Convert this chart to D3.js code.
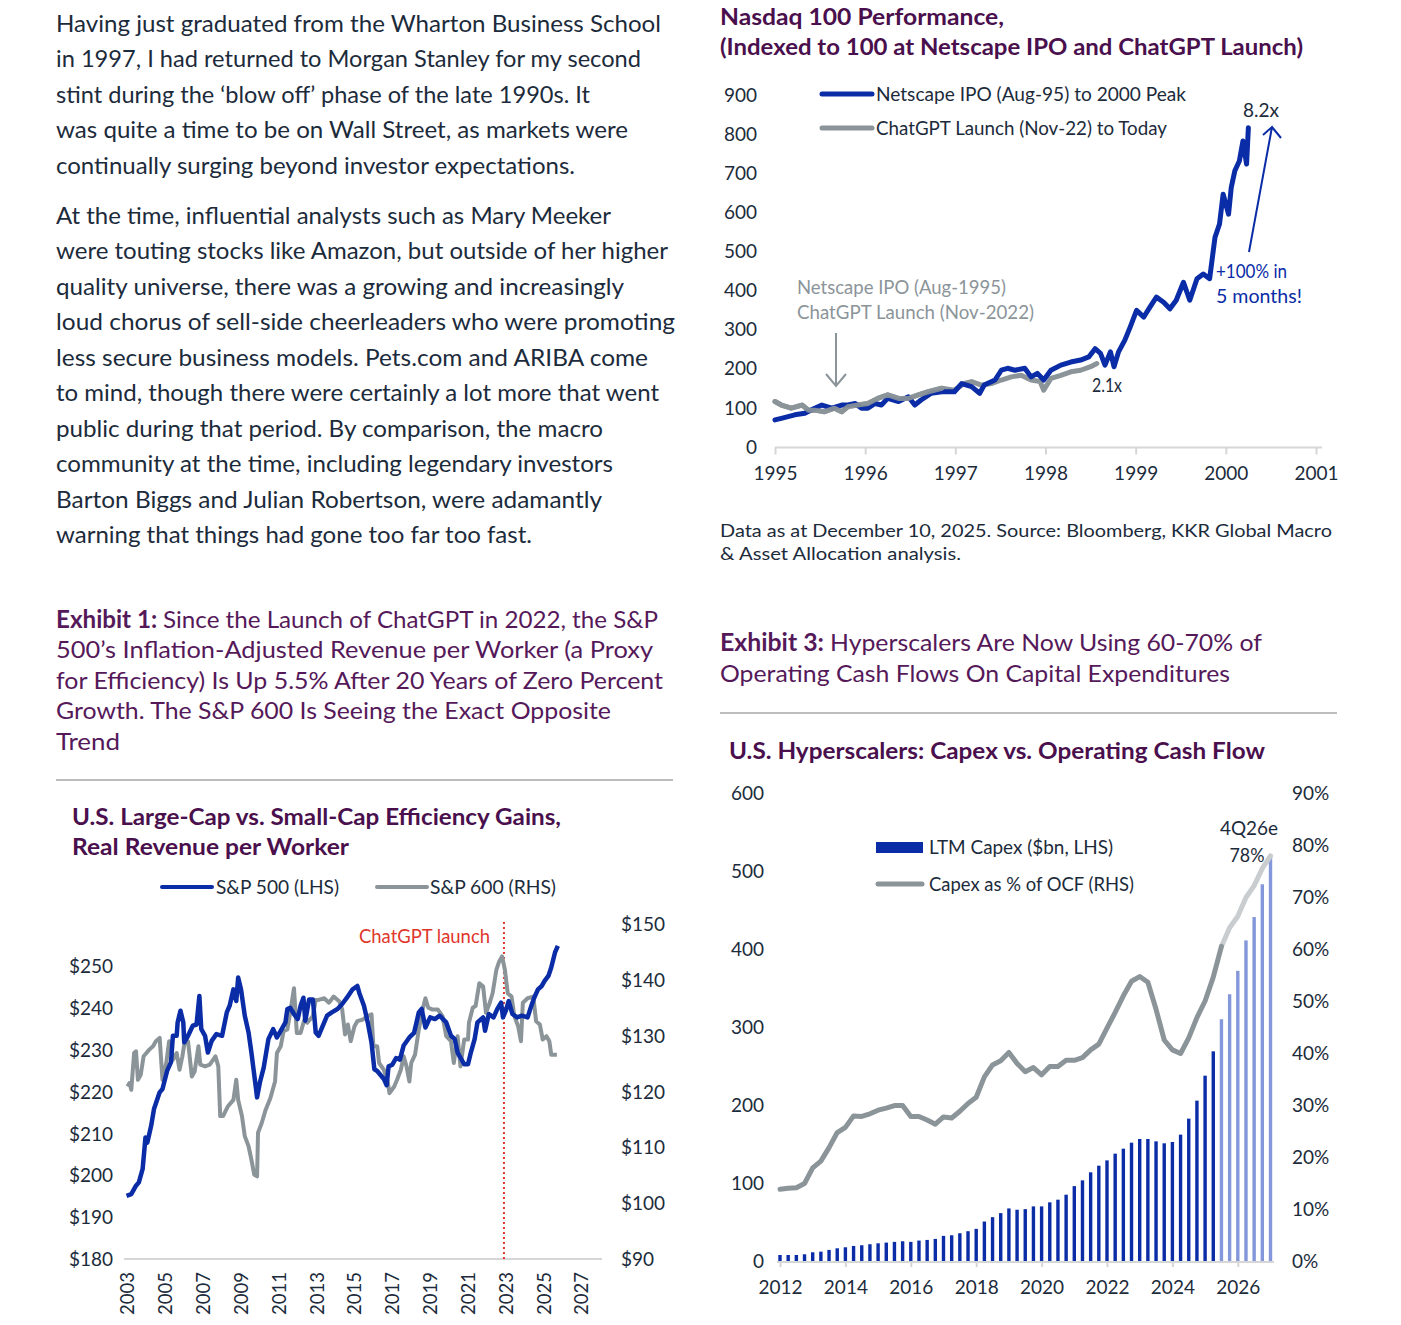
<!DOCTYPE html>
<html><head><meta charset="utf-8">
<script src="https://cdn.jsdelivr.net/npm/d3@7"></script>
<style>body{margin:0;background:#fff} svg{display:block}</style>
</head><body>
<svg id="c" width="1401" height="1325"></svg>
<script>
// ---------------- DATA ----------------
// Nasdaq chart (decimal years, index level)
const netscapeT = [1995.0,1995.07,1995.22,1995.33,1995.44,1995.52,1995.63,1995.74,1995.81,1995.89,1995.96,1996.03,1996.11,1996.18,1996.25,1996.37,1996.48,1996.55,1996.62,1996.73,1996.85,1996.99,1997.07,1997.18,1997.27,1997.32,1997.44,1997.51,1997.58,1997.66,1997.77,1997.84,1997.91,1997.98,1998.06,1998.17,1998.28,1998.39,1998.48,1998.55,1998.61,1998.66,1998.72,1998.76,1998.81,1998.88,1998.94,1999.01,1999.09,1999.16,1999.23,1999.31,1999.38,1999.45,1999.53,1999.6,1999.68,1999.75,1999.82,1999.88,1999.93,1999.97,2000.03,2000.06,2000.1,2000.15,2000.19,2000.23,2000.25];
const netscapeV = [68,72,81,85,98,106,98,106,106,110,98,98,110,106,123,115,127,106,119,136,140,140,161,153,136,157,170,195,200,195,200,178,187,170,195,208,216,221,229,250,238,208,242,204,242,272,306,348,331,357,382,369,352,374,420,374,429,441,429,535,569,645,594,662,705,730,781,722,815];
const chatgptT = [1995.0,1995.07,1995.18,1995.3,1995.37,1995.44,1995.55,1995.66,1995.74,1995.81,1995.92,1996.03,1996.14,1996.25,1996.37,1996.48,1996.59,1996.7,1996.85,1996.99,1997.1,1997.18,1997.29,1997.4,1997.51,1997.62,1997.73,1997.84,1997.94,1997.98,1998.06,1998.17,1998.28,1998.39,1998.5,1998.57];
const chatgptV = [115,106,98,106,93,93,89,98,89,102,106,110,123,132,123,123,132,140,149,144,161,166,157,161,170,178,182,170,166,144,174,182,191,195,204,212];
const nasdaqYTicks = [0,100,200,300,400,500,600,700,800,900];
const nasdaqXTicks = [1995,1996,1997,1998,1999,2000,2001];

// Exhibit 1: real revenue per worker
const sp500T = [2002.95,2003.2,2003.45,2003.6,2003.8,2003.95,2004.05,2004.25,2004.4,2004.7,2004.85,2005.1,2005.3,2005.4,2005.6,2005.65,2005.8,2005.95,2006.0,2006.2,2006.45,2006.65,2006.8,2006.9,2007.1,2007.25,2007.45,2007.7,2008.0,2008.25,2008.4,2008.6,2008.75,2008.85,2009.0,2009.2,2009.4,2009.55,2009.75,2009.85,2010.0,2010.2,2010.45,2010.7,2010.9,2011.15,2011.35,2011.45,2011.6,2011.8,2012.0,2012.15,2012.3,2012.4,2012.6,2012.8,2012.95,2013.1,2013.4,2013.55,2013.8,2014.1,2014.35,2014.6,2014.9,2015.15,2015.25,2015.5,2015.7,2015.9,2016.05,2016.2,2016.55,2016.7,2016.8,2017.0,2017.2,2017.4,2017.6,2017.9,2018.15,2018.4,2018.55,2018.75,2019.0,2019.25,2019.5,2019.85,2020.1,2020.3,2020.45,2020.65,2020.8,2021.0,2021.15,2021.35,2021.5,2021.8,2021.9,2022.1,2022.35,2022.55,2022.75,2022.85,2023.0,2023.15,2023.35,2023.6,2023.85,2024.15,2024.35,2024.5,2024.7,2024.9,2025.05,2025.25,2025.4,2025.6,2025.75];
const sp500V = [195.1,195.5,197.5,198.3,201.5,209,207.8,211.8,215.8,219.8,220.6,225,227,233.3,233.3,236.5,239.3,236.5,231.7,233.3,235.7,236,242.8,234.9,233.3,229.3,232.1,233.7,233.3,238.9,240.5,244.4,241.6,247.2,244.4,238.1,234.1,229.3,222.2,218.6,222.2,225.7,232.5,234.9,232.9,234.9,236.5,239.7,240,238.5,237.3,240.5,242.4,236.9,242,242,234.1,233.3,236.5,238.1,238.9,239.7,240.9,242.4,244.4,245.2,243.6,240.5,236.5,231.7,225.3,224.9,223,221.5,226,226.4,228,227.6,231,232.9,234,238.9,239.7,235.3,237.7,237.3,238.1,236.5,233.3,232.5,229.3,227.7,226.5,226.5,229.3,232.5,236.5,237.7,234.5,238.5,237.7,239.7,241.2,237.7,239.3,241.6,238.5,237.7,238.1,237.7,240.5,242.4,244.4,245.2,246.4,247.6,249.6,253.2,254.8];
const sp600T = [2003.0,2003.1,2003.2,2003.35,2003.45,2003.55,2003.7,2003.85,2004.0,2004.15,2004.35,2004.5,2004.7,2004.85,2005.05,2005.2,2005.4,2005.6,2005.75,2005.9,2006.0,2006.2,2006.4,2006.55,2006.75,2006.85,2007.1,2007.35,2007.65,2007.8,2007.9,2008.05,2008.3,2008.6,2008.75,2008.85,2009.05,2009.2,2009.4,2009.55,2009.7,2009.85,2009.9,2010.1,2010.3,2010.55,2010.8,2010.9,2011.1,2011.25,2011.45,2011.6,2011.8,2011.95,2012.15,2012.35,2012.5,2012.8,2012.95,2013.1,2013.4,2013.65,2013.9,2014.2,2014.35,2014.5,2014.65,2014.8,2015.0,2015.15,2015.45,2015.7,2015.9,2016.0,2016.2,2016.3,2016.55,2016.75,2016.85,2017.1,2017.25,2017.45,2017.6,2017.75,2017.9,2018.0,2018.2,2018.4,2018.6,2018.75,2018.9,2019.1,2019.4,2019.65,2019.85,2020.1,2020.25,2020.45,2020.6,2020.8,2021.0,2021.05,2021.25,2021.4,2021.6,2021.8,2021.95,2022.15,2022.3,2022.5,2022.65,2022.8,2022.95,2023.1,2023.3,2023.45,2023.65,2023.8,2023.9,2024.15,2024.45,2024.6,2024.8,2024.95,2025.15,2025.3,2025.4,2025.7];
const sp600V = [120.9,121.5,120.3,126.9,127.2,122.1,123,126.3,126.9,127.5,128.1,129,129.6,122.1,125.1,129,125.7,126.9,123.9,126.3,128.4,129,122.7,123.6,128.1,124.8,124.5,124.8,126.3,124.5,115.6,115.6,117.3,118.5,122.1,118.5,115.6,112,110.2,107.8,105.1,104.8,112.6,114.4,116.7,118.8,121.8,126.9,128.1,130.8,131.1,134.1,138.5,130.5,130.5,132.9,132.3,133.5,136.4,136.4,136.7,135.9,137,136.1,134.7,130.2,132,129,131.7,132.6,132.9,133.5,133.8,128.1,128.1,125.1,123.9,121.8,119.7,120.9,122.1,123.9,126.3,124.5,121.8,125.1,126.6,131.1,134.7,136.7,135,134.7,134.7,133.5,129.9,129,125.1,129.9,124.5,129.3,129.3,132.3,135,135.3,139.4,138.8,134.1,135.9,137.6,141.8,143.3,144.2,141.8,137.6,137,133.5,131.7,129,135.9,136.7,137,132.6,132,129.3,129.9,129,126.6,126.6];
const ex1LeftTicks = [180,190,200,210,220,230,240,250];
const ex1RightTicks = [90,100,110,120,130,140,150];
const ex1YearTicks = [2003,2005,2007,2009,2011,2013,2015,2017,2019,2021,2023,2025,2027];
const chatgptLaunch = 2022.9;

// Exhibit 3: hyperscalers, quarterly (quarter-end positions)
const quarters = ["4Q11","1Q12","2Q12","3Q12","4Q12","1Q13","2Q13","3Q13","4Q13","1Q14","2Q14","3Q14","4Q14","1Q15","2Q15","3Q15","4Q15","1Q16","2Q16","3Q16","4Q16","1Q17","2Q17","3Q17","4Q17","1Q18","2Q18","3Q18","4Q18","1Q19","2Q19","3Q19","4Q19","1Q20","2Q20","3Q20","4Q20","1Q21","2Q21","3Q21","4Q21","1Q22","2Q22","3Q22","4Q22","1Q23","2Q23","3Q23","4Q23","1Q24","2Q24","3Q24","4Q24","1Q25","2Q25e","3Q25e","4Q25e","1Q26e","2Q26e","3Q26e","4Q26e"];
const capex = [7.7,7.7,7.7,8.6,11.2,12,14.2,16.3,17.6,19.3,20.2,21.5,22.7,23.6,24.5,25.3,24.5,26.2,27,28.3,32.2,33,35.6,38.2,41.2,50.6,56.2,61.4,67.4,65.7,66.5,70,70,75.2,78.6,85,96,103.4,113.7,122.2,129,137.6,144,151.7,156.4,156.4,153.4,150.9,152.6,162,182.5,205.6,237.6,268.8,310,342,372,411,441,483,521];
const capexPctOCF = [13.8,14,14.1,14.9,17.9,19.2,21.8,24.7,25.7,27.9,27.8,28.3,29,29.4,29.9,29.9,27.8,27.8,27.1,26.3,27.7,27.5,28.8,30.3,31.5,35.4,37.7,38.5,40.1,38,36.4,37.2,35.8,37.4,37.4,38.6,38.6,39.1,40.6,41.7,44.8,47.8,51,53.8,54.7,53.6,48.4,42.5,40.6,39.9,42.9,46.8,50,54.6,60.5,64.1,66.3,69.9,72.2,75.5,77.9];
const firstEstimate = "2Q25e";
const ex3LeftTicks = [0,100,200,300,400,500,600];
const ex3RightTicks = [0,10,20,30,40,50,60,70,80,90];
const ex3YearTicks = [2012,2014,2016,2018,2020,2022,2024,2026];

// ---------------- STYLE ----------------
const INK = "#1c2b3b", PURPLE = "#55195a", TPURPLE = "#4a0f4d";
const BLUE = "#0a2ca6", GRAY = "#8b9499", LIGHTBLUE = "#8497da", LIGHTGRAY = "#c9cdd0";
const RED = "#e0352b", AXIS = "#d6d6d6";
const FONT = "Lato";

const svg = d3.select("#c");

function T(x, y, s, o = {}) {
  const t = svg.append("text").attr("x", x).attr("y", y)
    .attr("font-family", FONT).attr("font-size", o.size || 18)
    .attr("font-weight", o.weight || 400).attr("fill", o.fill || INK)
    .attr("text-anchor", o.anchor || "start");
  if (o.parts) {
    o.parts.forEach(p => t.append("tspan").attr("font-weight", p.w || 400).text(p.t));
  } else t.text(s);
  if (o.w) t.attr("textLength", o.w).attr("lengthAdjust", "spacingAndGlyphs");
  return t;
}
function styleTicks(g, size) {
  g.selectAll(".tick text").attr("font-family", FONT).attr("font-size", size).attr("fill", INK);
}

// ---------------- LEFT BODY TEXT ----------------
const body = [
  ["Having just graduated from the Wharton Business School", 31.5, 661],
  ["in 1997, I had returned to Morgan Stanley for my second", 67, 641],
  ["stint during the \u2018blow off\u2019 phase of the late 1990s. It", 102.5, 590],
  ["was quite a time to be on Wall Street, as markets were", 138, 628],
  ["continually surging beyond investor expectations.", 173.5, 575],
  ["At the time, influential analysts such as Mary Meeker", 223.5, 611],
  ["were touting stocks like Amazon, but outside of her higher", 259, 668],
  ["quality universe, there was a growing and increasingly", 294.5, 624],
  ["loud chorus of sell-side cheerleaders who were promoting", 330, 675],
  ["less secure business models. Pets.com and ARIBA come", 365.5, 648],
  ["to mind, though there were certainly a lot more that went", 401, 659],
  ["public during that period. By comparison, the macro", 436.5, 603],
  ["community at the time, including legendary investors", 472, 613],
  ["Barton Biggs and Julian Robertson, were adamantly", 507.5, 602],
  ["warning that things had gone too far too fast.", 543, 532]
];
body.forEach(([s, y, end]) => T(56, y, s, { size: 24, w: end - 56 }));

// Exhibit 1 heading
T(56, 627.5, null, { size: 24, fill: PURPLE, w: 602, parts: [{ t: "Exhibit 1: ", w: 700 }, { t: "Since the Launch of ChatGPT in 2022, the S&P" }] });
[["500\u2019s Inflation-Adjusted Revenue per Worker (a Proxy", 658, 653],
 ["for Efficiency) Is Up 5.5% After 20 Years of Zero Percent", 688.5, 663],
 ["Growth. The S&P 600 Is Seeing the Exact Opposite", 719, 611],
 ["Trend", 749.5, 120]].forEach(([s, y, e]) => T(56, y, s, { size: 24, fill: PURPLE, w: e - 56 }));
svg.append("line").attr("x1", 56).attr("x2", 673).attr("y1", 780).attr("y2", 780).attr("stroke", "#bdbdbd").attr("stroke-width", 2);

// Exhibit 3 heading
T(720, 650.5, null, { size: 24, fill: PURPLE, w: 542, parts: [{ t: "Exhibit 3: ", w: 700 }, { t: "Hyperscalers Are Now Using 60-70% of" }] });
T(720, 681.5, "Operating Cash Flows On Capital Expenditures", { size: 24, fill: PURPLE, w: 510 });
svg.append("line").attr("x1", 720).attr("x2", 1337).attr("y1", 713).attr("y2", 713).attr("stroke", "#bdbdbd").attr("stroke-width", 2);

// ---------------- NASDAQ CHART ----------------
T(720, 25, "Nasdaq 100 Performance,", { size: 23, weight: 700, fill: TPURPLE, w: 284 });
T(720, 55, "(Indexed to 100 at Netscape IPO and ChatGPT Launch)", { size: 23, weight: 700, fill: TPURPLE, w: 583 });
{
  const x = d3.scaleLinear().domain([1995, 2001]).range([775, 1316]);
  const y = d3.scaleLinear().domain([0, 900]).range([446.5, 94.5]);
  const ax = svg.append("g").attr("transform", "translate(0,447.5)")
    .call(d3.axisBottom(x).tickValues(nasdaqXTicks).tickFormat(d3.format("d")).tickSize(7));
  ax.select(".domain").attr("stroke", AXIS).attr("stroke-width", 2).attr("d", "M775,0H1322");
  ax.selectAll(".tick line").attr("stroke", AXIS).attr("stroke-width", 2);
  styleTicks(ax, 19);
  ax.selectAll(".tick text").attr("dy", 0).attr("y", 32);
  const ay = svg.append("g").attr("transform", "translate(757,0)")
    .call(d3.axisLeft(y).tickValues(nasdaqYTicks).tickSize(0).tickPadding(0));
  ay.select(".domain").remove();
  styleTicks(ay, 19);
  ay.selectAll(".tick text").attr("dy", "0.35em");

  const line = d3.line().x(d => x(d[0])).y(d => y(d[1]));
  svg.append("path").datum(chatgptT.map((t, i) => [t, chatgptV[i]])).attr("d", line)
    .attr("fill", "none").attr("stroke", GRAY).attr("stroke-width", 5).attr("stroke-linejoin", "round").attr("stroke-linecap", "round");
  svg.append("path").datum(netscapeT.map((t, i) => [t, netscapeV[i]])).attr("d", line)
    .attr("fill", "none").attr("stroke", BLUE).attr("stroke-width", 5).attr("stroke-linejoin", "round").attr("stroke-linecap", "round");
  svg.append("path").datum(chatgptT.map((t, i) => [t, chatgptV[i]]).filter(d => d[0] < 1996.9)).attr("d", line)
    .attr("fill", "none").attr("stroke", GRAY).attr("stroke-width", 5).attr("stroke-linejoin", "round").attr("stroke-linecap", "round").attr("opacity", 0.9);

  // legend
  svg.append("line").attr("x1", 822).attr("x2", 872).attr("y1", 94).attr("y2", 94).attr("stroke", BLUE).attr("stroke-width", 5).attr("stroke-linecap", "round");
  svg.append("line").attr("x1", 822).attr("x2", 872).attr("y1", 128).attr("y2", 128).attr("stroke", GRAY).attr("stroke-width", 5).attr("stroke-linecap", "round");
  T(876, 100.5, "Netscape IPO (Aug-95) to 2000 Peak", { size: 18.5, w: 310 });
  T(876, 134.5, "ChatGPT Launch (Nov-22) to Today", { size: 18.5, w: 291 });

  // annotations
  T(797, 293.5, "Netscape IPO (Aug-1995)", { size: 18.5, fill: GRAY, w: 209 });
  T(797, 318.5, "ChatGPT Launch (Nov-2022)", { size: 18.5, fill: GRAY, w: 237 });
  svg.append("path").attr("d", "M836,333V386M826,374L836,386L846,374").attr("fill", "none").attr("stroke", GRAY).attr("stroke-width", 2);
  T(1261, 116.5, "8.2x", { size: 18.5, anchor: "middle", w: 36 });
  T(1107, 391.5, "2.1x", { size: 18.5, anchor: "middle", w: 30 });
  T(1216, 277.5, "+100% in", { size: 18.5, fill: BLUE, w: 71 });
  T(1216, 302.5, "5 months!", { size: 18.5, fill: BLUE, w: 86 });
  svg.append("path").attr("d", "M1249,252L1272,127M1263,135L1272,127L1281,138").attr("fill", "none").attr("stroke", BLUE).attr("stroke-width", 2);

  T(720, 537, "Data as at December 10, 2025. Source: Bloomberg, KKR Global Macro", { size: 17.5, w: 612 });
  T(720, 560, "& Asset Allocation analysis.", { size: 17.5, w: 241 });
}

// ---------------- EXHIBIT 1 CHART ----------------
T(72, 825, "U.S. Large-Cap vs. Small-Cap Efficiency Gains,", { size: 22, weight: 700, fill: TPURPLE, w: 489 });
T(72, 855, "Real Revenue per Worker", { size: 22, weight: 700, fill: TPURPLE, w: 277 });
{
  const x = d3.scaleLinear().domain([2003, 2027]).range([127.5, 581.5]);
  const yL = d3.scaleLinear().domain([180, 260]).range([1259, 924]);
  const yR = d3.scaleLinear().domain([90, 150]).range([1259, 924]);

  svg.append("line").attr("x1", 124).attr("x2", 602).attr("y1", 1259).attr("y2", 1259).attr("stroke", AXIS).attr("stroke-width", 2);
  const aL = svg.append("g").attr("transform", "translate(113,0)").call(d3.axisLeft(yL).tickValues(ex1LeftTicks).tickFormat(d => "$" + d).tickSize(0).tickPadding(0));
  aL.select(".domain").remove();
  styleTicks(aL, 19);
  aL.selectAll(".tick text").attr("dy", "0.35em");
  const aR = svg.append("g").attr("transform", "translate(621,0)").call(d3.axisRight(yR).tickValues(ex1RightTicks).tickFormat(d => "$" + d).tickSize(0).tickPadding(0));
  aR.select(".domain").remove();
  styleTicks(aR, 19);
  aR.selectAll(".tick text").attr("dy", "0.35em");
  const aB = svg.append("g").attr("transform", "translate(0,1259)").call(d3.axisBottom(x).tickValues(ex1YearTicks).tickFormat(d3.format("d")).tickSize(0));
  aB.select(".domain").remove();
  styleTicks(aB, 18.5);
  aB.selectAll(".tick text").attr("transform", "rotate(-90)").attr("text-anchor", "end").attr("x", -13).attr("y", 0).attr("dy", "0.35em");

  // ChatGPT launch marker
  svg.append("line").attr("x1", x(chatgptLaunch)).attr("x2", x(chatgptLaunch)).attr("y1", 922).attr("y2", 1259)
    .attr("stroke", RED).attr("stroke-width", 2).attr("stroke-dasharray", "2,3");
  T(490, 942.5, "ChatGPT launch", { size: 18.5, fill: RED, anchor: "end", w: 131 });

  svg.append("path").datum(sp600T.map((t, i) => [t, sp600V[i]]))
    .attr("d", d3.line().x(d => x(d[0])).y(d => yR(d[1])))
    .attr("fill", "none").attr("stroke", GRAY).attr("stroke-width", 4).attr("stroke-linejoin", "round");
  svg.append("path").datum(sp500T.map((t, i) => [t, sp500V[i]]))
    .attr("d", d3.line().x(d => x(d[0])).y(d => yL(d[1])))
    .attr("fill", "none").attr("stroke", BLUE).attr("stroke-width", 4.5).attr("stroke-linejoin", "round");

  svg.append("line").attr("x1", 162).attr("x2", 212).attr("y1", 887).attr("y2", 887).attr("stroke", BLUE).attr("stroke-width", 4).attr("stroke-linecap", "round");
  T(216, 893.5, "S&P 500 (LHS)", { size: 18.5, w: 123 });
  svg.append("line").attr("x1", 377).attr("x2", 427).attr("y1", 887).attr("y2", 887).attr("stroke", GRAY).attr("stroke-width", 4).attr("stroke-linecap", "round");
  T(430, 893.5, "S&P 600 (RHS)", { size: 18.5, w: 126 });
}

// ---------------- EXHIBIT 3 CHART ----------------
T(729, 758.5, "U.S. Hyperscalers: Capex vs. Operating Cash Flow", { size: 22, weight: 700, fill: TPURPLE, w: 536 });
{
  const qx = d3.scaleLinear().domain([2012, 2027]).range([780, 1270.5]);
  const qt = i => 2012 + i * 0.25; // quarter-end position of the i-th quarter
  const yL = d3.scaleLinear().domain([0, 600]).range([1261, 793]);
  const yR = d3.scaleLinear().domain([0, 90]).range([1261, 793]);
  const estIdx = quarters.indexOf(firstEstimate);

  const ab = svg.append("g").attr("transform", "translate(0,1262)")
    .call(d3.axisBottom(qx).tickValues(ex3YearTicks).tickFormat(d3.format("d")).tickSize(5));
  ab.select(".domain").attr("stroke", AXIS).attr("stroke-width", 2).attr("d", "M777,0H1274");
  ab.selectAll(".tick line").attr("stroke", AXIS).attr("stroke-width", 2);
  styleTicks(ab, 19);
  ab.selectAll(".tick text").attr("dy", 0).attr("y", 32);
  const al = svg.append("g").attr("transform", "translate(764,0)").call(d3.axisLeft(yL).tickValues(ex3LeftTicks).tickSize(0).tickPadding(0));
  al.select(".domain").remove();
  styleTicks(al, 19);
  al.selectAll(".tick text").attr("dy", "0.35em");
  const ar = svg.append("g").attr("transform", "translate(1292,0)").call(d3.axisRight(yR).tickValues(ex3RightTicks).tickFormat(d => d + "%").tickSize(0).tickPadding(0));
  ar.select(".domain").remove();
  styleTicks(ar, 19);
  ar.selectAll(".tick text").attr("dy", "0.35em");

  svg.append("g").selectAll("rect").data(capex).join("rect")
    .attr("x", (d, i) => qx(qt(i)) - 1.7).attr("width", 3.4)
    .attr("y", d => yL(d)).attr("height", d => yL(0) - yL(d))
    .attr("fill", (d, i) => i >= estIdx ? LIGHTBLUE : BLUE);

  const pts = capexPctOCF.map((v, i) => [qt(i), v, i]);
  const ln = d3.line().x(d => qx(d[0])).y(d => yR(d[1]));
  svg.append("path").datum(pts.filter(d => d[2] >= estIdx)).attr("d", ln)
    .attr("fill", "none").attr("stroke", LIGHTGRAY).attr("stroke-width", 5).attr("stroke-linecap", "round").attr("stroke-linejoin", "round");
  svg.append("path").datum(pts.filter(d => d[2] <= estIdx)).attr("d", ln)
    .attr("fill", "none").attr("stroke", GRAY).attr("stroke-width", 5).attr("stroke-linecap", "round").attr("stroke-linejoin", "round");

  svg.append("rect").attr("x", 876).attr("y", 842).attr("width", 47).attr("height", 11).attr("fill", BLUE);
  T(929, 853.5, "LTM Capex ($bn, LHS)", { size: 18.5, w: 184 });
  svg.append("line").attr("x1", 878).attr("x2", 922).attr("y1", 884).attr("y2", 884).attr("stroke", GRAY).attr("stroke-width", 5).attr("stroke-linecap", "round");
  T(929, 890.5, "Capex as % of OCF (RHS)", { size: 18.5, w: 205 });

  T(1249, 834.5, "4Q26e", { size: 18.5, anchor: "middle", w: 58 });
  T(1247, 861.5, "78%", { size: 18.5, anchor: "middle", w: 35 });
}
</script></body></html>
